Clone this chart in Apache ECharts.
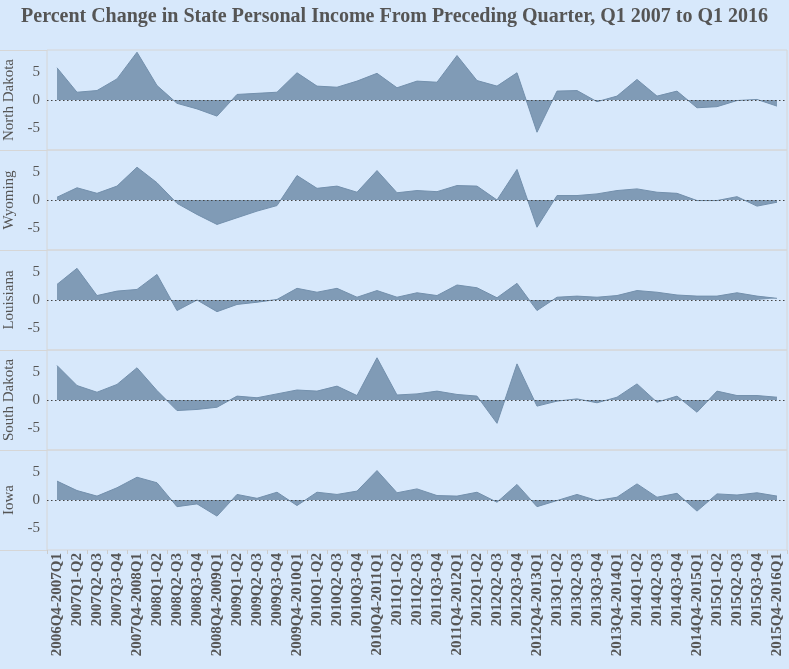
<!DOCTYPE html>
<html>
<head>
<meta charset="utf-8">
<script src="https://cdn.jsdelivr.net/npm/echarts@6/dist/echarts.min.js"></script>
<style>
html,body{margin:0;padding:0;background:#d7e8fb;}
#c{width:789px;height:669px;}
</style>
</head>
<body>
<div id="c"></div>
<script>
const categories = ["2006Q4-2007Q1","2007Q1-Q2","2007Q2-Q3","2007Q3-Q4","2007Q4-2008Q1","2008Q1-Q2","2008Q2-Q3","2008Q3-Q4","2008Q4-2009Q1","2009Q1-Q2","2009Q2-Q3","2009Q3-Q4","2009Q4-2010Q1","2010Q1-Q2","2010Q2-Q3","2010Q3-Q4","2010Q4-2011Q1","2011Q1-Q2","2011Q2-Q3","2011Q3-Q4","2011Q4-2012Q1","2012Q1-Q2","2012Q2-Q3","2012Q3-Q4","2012Q4-2013Q1","2013Q1-Q2","2013Q2-Q3","2013Q3-Q4","2013Q4-2014Q1","2014Q1-Q2","2014Q2-Q3","2014Q3-Q4","2014Q4-2015Q1","2015Q1-Q2","2015Q2-Q3","2015Q3-Q4","2015Q4-2016Q1"];
const states = ["North Dakota","Wyoming","Louisiana","South Dakota","Iowa"];
const northDakota = [5.8,1.4,1.7,3.8,8.6,2.6,-0.6,-1.6,-2.9,1.0,1.2,1.4,4.9,2.5,2.3,3.4,4.8,2.2,3.4,3.2,8.0,3.5,2.5,4.9,-5.8,1.6,1.7,-0.3,0.7,3.7,0.7,1.6,-1.4,-1.2,-0.1,0.1,-1.1];
const wyoming = [0.5,2.2,1.2,2.5,5.9,3.1,-0.6,-2.6,-4.4,-3.2,-2.0,-1.0,4.4,2.1,2.5,1.4,5.3,1.3,1.7,1.5,2.6,2.5,0.0,5.5,-4.9,0.8,0.8,1.1,1.7,2.0,1.4,1.2,-0.1,-0.1,0.6,-1.1,-0.4];
const louisiana = [2.8,5.7,0.8,1.6,1.9,4.6,-1.9,0.0,-2.1,-0.8,-0.4,0.1,2.1,1.4,2.1,0.5,1.7,0.5,1.3,0.8,2.7,2.2,0.4,3.0,-1.9,0.5,0.7,0.5,0.8,1.7,1.4,0.9,0.7,0.7,1.3,0.7,0.3];
const southDakota = [6.2,2.6,1.4,2.8,5.8,1.7,-1.9,-1.7,-1.3,0.7,0.4,1.1,1.8,1.6,2.5,0.8,7.6,0.9,1.1,1.6,1.0,0.7,-4.2,6.5,-1.1,-0.2,0.2,-0.5,0.5,2.9,-0.4,0.7,-2.2,1.6,0.8,0.8,0.5];
const iowa = [3.4,1.7,0.7,2.2,4.1,3.1,-1.2,-0.7,-2.9,1.0,0.3,1.4,-1.0,1.4,1.0,1.6,5.3,1.3,2.0,0.8,0.7,1.4,-0.4,2.8,-1.2,-0.1,1.0,-0.1,0.5,2.9,0.5,1.2,-2.0,1.1,0.9,1.3,0.7];
const yTickLabels = [-5, 0, 5];
const title = "Percent Change in State Personal Income From Preceding Quarter, Q1 2007 to Q1 2016";

const seriesData = [northDakota, wyoming, louisiana, southDakota, iowa];
const chart = echarts.init(document.getElementById('c'), null, {renderer:'canvas'});
const textColor = '#555555';
const borderColor = '#d6d6d6';
const grids = [], xAxes = [], yAxes = [], series = [], graphics = [];
const top0 = 50, panelH = 100, left = 47, width = 740;
for (let k = 0; k < states.length; k++) {
  const last = k === states.length - 1;
  grids.push({left: left, width: width, top: top0 + k*panelH, height: panelH, containLabel: false, outerBoundsMode: 'none', show: true, borderColor: borderColor, borderWidth: 1, backgroundColor: 'transparent'});
  xAxes.push({
    type: 'category', gridIndex: k, data: categories, boundaryGap: true,
    axisLine: {show: false, onZero: false},
    axisTick: {show: last, alignWithLabel: false, length: 4, lineStyle: {color: '#cccccc'}},
    axisLabel: {show: last, interval: 0, rotate: 90, margin: 3, color: textColor, fontFamily: 'Liberation Serif', fontWeight: 'bold', fontSize: 15},
    splitLine: {show: false}
  });
  yAxes.push({
    type: 'value', gridIndex: k, min: -9, max: 9, interval: 1,
    name: states[k], nameLocation: 'middle', nameRotate: 90, nameGap: 30,
    nameTextStyle: {color: textColor, fontFamily: 'Liberation Serif', fontSize: 15},
    axisLine: {show: false}, axisTick: {show: false}, splitLine: {show: false},
    axisLabel: {color: textColor, fontFamily: 'Liberation Serif', fontSize: 15, margin: 7,
      formatter: v => yTickLabels.indexOf(v) >= 0 ? String(v) : ''}
  });
  series.push({
    type: 'line', xAxisIndex: k, yAxisIndex: k, data: seriesData[k],
    symbol: 'none', silent: true, animation: false,
    lineStyle: {color: '#7390ad', width: 1},
    areaStyle: {color: '#809bb6', opacity: 1},
    markLine: {silent: true, symbol: 'none', label: {show: false}, animation: false,
      lineStyle: {color: '#444444', type: [1.5, 2.5], width: 1},
      data: [{yAxis: 0}]}
  });
}
// decorative separators extending into the label column
for (let k = 0; k <= states.length; k++) {
  graphics.push({type: 'line', shape: {x1: 0, y1: top0 + k*panelH + 0.5, x2: left, y2: top0 + k*panelH + 0.5}, style: {stroke: borderColor, lineWidth: 1}, silent: true});
}
chart.setOption({
  backgroundColor: '#d7e8fb',
  animation: false,
  title: {text: title, left: 'center', top: 2, textStyle: {color: textColor, fontFamily: 'Liberation Serif', fontWeight: 'bold', fontSize: 20}},
  grid: grids, xAxis: xAxes, yAxis: yAxes, series: series, graphic: graphics
});
</script>
</body>
</html>
